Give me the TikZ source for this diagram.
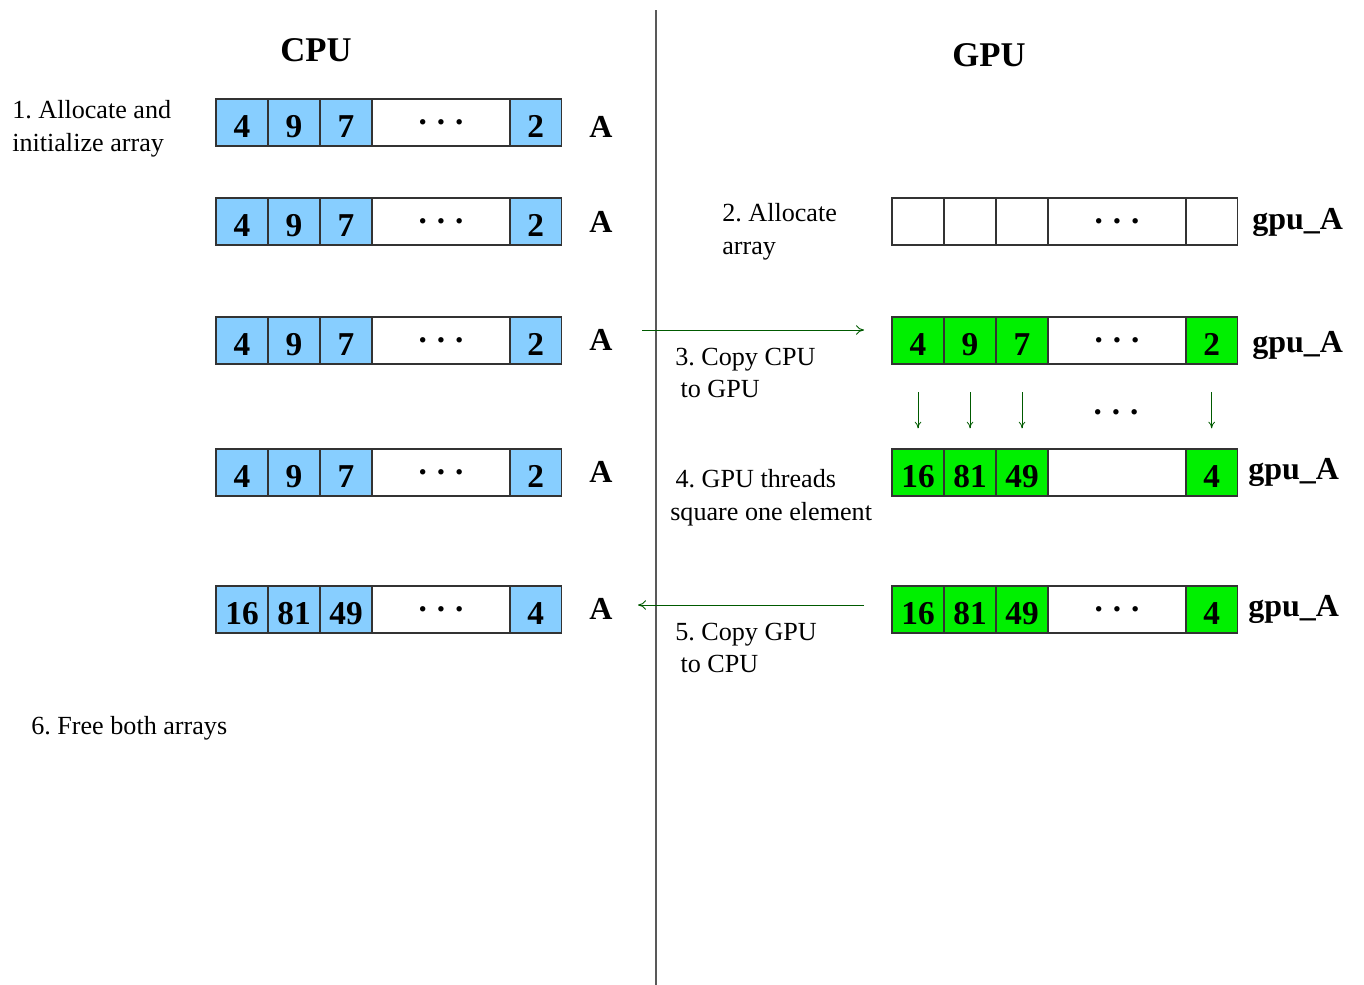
\documentclass[tikz,border=0pt]{standalone}
\usepackage{fontspec}
\setmainfont{Liberation Serif}
\usetikzlibrary{arrows.meta}
\definecolor{cpublue}{RGB}{135,206,255}
\definecolor{gpugreen}{RGB}{0,240,0}
\definecolor{arrowgreen}{RGB}{0,90,0}
\tikzset{
  cell/.style={draw=black!80, line width=0.8pt, outer sep=0pt, anchor=west, minimum height=35.25pt, minimum width=39pt, inner sep=0pt, text height=22pt, font=\fontsize{25}{25}\selectfont\bfseries},
  widecell/.style={cell, minimum width=103.5pt, text height=3pt, text depth=0pt},
  lastcell/.style={cell, minimum width=38.5pt},
  desc/.style={anchor=west, align=left, inner sep=0pt, font=\fontsize{19.6}{24.5}\selectfont},
  heading/.style={inner sep=0pt, font=\fontsize{26}{26}\selectfont\bfseries},
  varlabel/.style={anchor=west, inner sep=0pt, font=\fontsize{24}{24}\selectfont\bfseries},
  flow/.style={draw=arrowgreen, line width=0.7pt, -{To[length=6pt,width=7pt]}},
}
\newcommand{\dotsrow}{.\hspace{0.3em}.\hspace{0.3em}.}
% #1 name, #2 x, #3 y, #4 fill, #5-#7 values, #8 middle, #9 last
\newcommand{\cellrow}[9]{%
  \node[cell, fill=#4] (#1a) at (#2,#3) {#5};
  \node[cell, fill=#4] (#1b) at (#1a.east) {#6};
  \node[cell, fill=#4] (#1c) at (#1b.east) {#7};
  \node[widecell, fill=white] (#1d) at (#1c.east) {#8};
  \node[lastcell, fill=#4] (#1e) at (#1d.east) {#9};
}
\begin{document}
\frenchspacing
\begin{tikzpicture}[x=0.75pt, y=-0.75pt]
\useasboundingbox (0,0) rectangle (1364,985);

% divider
\draw[draw=black!65, line width=0.8pt] (656,10) coordinate (divtop) -- (656,985) coordinate (divbot);

% headings
\node[heading] (cpuhead) at (316,50) {CPU};
\node[heading] (gpuhead) at (989,55) {GPU};

% CPU arrays
\cellrow{ca}{216}{122.5}{cpublue}{4}{9}{7}{\dotsrow}{2}
\cellrow{cb}{216}{221.5}{cpublue}{4}{9}{7}{\dotsrow}{2}
\cellrow{cc}{216}{340.5}{cpublue}{4}{9}{7}{\dotsrow}{2}
\cellrow{cd}{216}{472.5}{cpublue}{4}{9}{7}{\dotsrow}{2}
\cellrow{ce}{216}{609.5}{cpublue}{16}{81}{49}{\dotsrow}{4}

\node[varlabel] (la) at (589,127) {A};
\node[varlabel] (lb) at (589,222) {A};
\node[varlabel] (lc) at (589,340) {A};
\node[varlabel] (ld) at (589,472) {A};
\node[varlabel] (le) at (589,609) {A};

% GPU arrays
\cellrow{gb}{892}{221.5}{white}{}{}{}{\dotsrow}{}
\cellrow{gc}{892}{340.5}{gpugreen}{4}{9}{7}{\dotsrow}{2}
\cellrow{gd}{892}{472.5}{gpugreen}{16}{81}{49}{}{4}
\cellrow{ge}{892}{609.5}{gpugreen}{16}{81}{49}{\dotsrow}{4}

\node[varlabel] (glb) at (1252,222) {gpu\_A};
\node[varlabel] (glc) at (1252,345) {gpu\_A};
\node[varlabel] (gld) at (1248,472) {gpu\_A};
\node[varlabel] (gle) at (1248,609) {gpu\_A};

% descriptions
\node[desc] (s1) at (12,129) {1. Allocate and\\initialize array};
\node[desc] (s2) at (722,232) {2. Allocate\\array};
\node[desc] (s3) at (675,373) {3. Copy CPU\\\hspace{4pt}to GPU};
\node[desc] (s4) at (670,498) {\hspace{4pt}4. GPU threads\\square one element};
\node[desc] (s5) at (675,648) {5. Copy GPU\\\hspace{4pt}to CPU};
\node[desc] (s6) at (31,728) {6. Free both arrays};

% copy arrows
\coordinate (cpyAstart) at (642,330);
\coordinate (cpyAend) at (864,330);
\draw[flow] (cpyAstart) -- (cpyAend);
\coordinate (cpyBstart) at (864,605);
\coordinate (cpyBend) at (638,605);
\draw[flow] (cpyBstart) -- (cpyBend);

% thread arrows
\foreach \c in {a,b,c,e}{
  \draw[flow, -{To[length=5pt,width=5pt]}, line width=0.6pt, shorten <=21pt, shorten >=15.5pt] (gc\c.south) -- (gd\c.north);
}
\node[inner sep=0pt, font=\fontsize{25}{25}\selectfont\bfseries] (threaddots) at (1116,412) {\dotsrow};
\end{tikzpicture}
\end{document}
